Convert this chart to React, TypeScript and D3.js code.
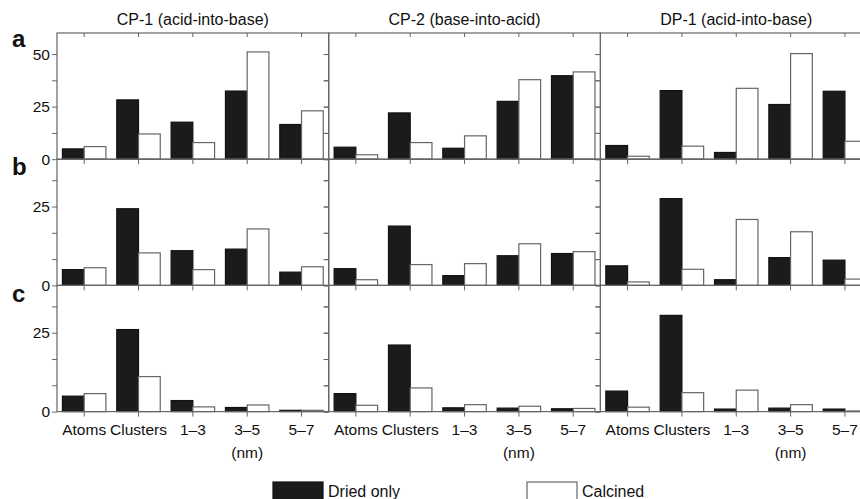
import React, { useEffect, useRef } from "react";
import * as d3 from "d3";

const categories = ["Atoms", "Clusters", "1–3", "3–5", "5–7"];
const columns = ["CP-1 (acid-into-base)", "CP-2 (base-into-acid)", "DP-1 (acid-into-base)"];
const rowLetters = ["a", "b", "c"];
const rowMax = [60, 40, 40];
const rowStep = [12.5, 25 / 3, 25 / 3];
const seriesNames = ["Dried only", "Calcined"];

// one list per column (CP-1, CP-2, DP-1), values per category
const driedA = [
  [4.9, 28.2, 17.6, 32.4, 16.5],
  [5.7, 22, 5.2, 27.5, 39.7],
  [6.5, 32.6, 3.2, 26, 32.3],
];
const calcinedA = [
  [6.0, 12.0, 7.9, 51, 23],
  [2.1, 7.9, 11.1, 37.8, 41.5],
  [1.4, 6.2, 33.7, 50.2, 8.5],
];
const driedB = [
  [5.0, 24.3, 11.0, 11.5, 4.2],
  [5.3, 18.8, 3.1, 9.4, 10.1],
  [6.2, 27.5, 1.8, 8.8, 8.0],
];
const calcinedB = [
  [5.6, 10.3, 5.0, 17.9, 5.9],
  [1.8, 6.6, 6.9, 13.2, 10.7],
  [1.1, 5.1, 20.9, 17.0, 2.0],
];
const driedC = [
  [4.9, 26, 3.5, 1.3, 0.4],
  [5.7, 21.1, 1.2, 1.1, 0.9],
  [6.5, 30.5, 0.8, 1.1, 0.8],
];
const calcinedC = [
  [5.7, 11.1, 1.5, 2.1, 0.4],
  [2.0, 7.5, 2.2, 1.7, 1.0],
  [1.4, 6.0, 6.8, 2.2, 0.2],
];

const W = 860;
const H = 499;
const left = 57;
const colW = 271.7;
const top = 33;
const rowH = 126.2;
const font = "'Liberation Sans', Arial, Helvetica, sans-serif";
const fs = 16;
const tickFs = 15.5;
const gray = "#666";

export default function App() {
  const ref = useRef<SVGSVGElement>(null);

  useEffect(() => {
    const svg = d3.select(ref.current);
    svg.selectAll("*").remove();

    const dried = [driedA, driedB, driedC];
    const calcined = [calcinedA, calcinedB, calcinedC];

    const x = d3
      .scaleBand()
      .domain(categories)
      .range([0, colW])
      .paddingInner(0.2)
      .paddingOuter(0.1);
    const xs = d3.scaleBand().domain(seriesNames).range([0, x.bandwidth()]);

    const isMajor = (d: number) => Math.abs(d / 25 - Math.round(d / 25)) < 1e-6;

    rowLetters.forEach((letter, ri) => {
      const y = d3.scaleLinear().domain([0, rowMax[ri]]).range([rowH, 0]);
      const ticks = d3.range(0, rowMax[ri] + 1e-6, rowStep[ri]);

      columns.forEach((title, ci) => {
        const g = svg
          .append("g")
          .attr("transform", `translate(${left + ci * colW},${top + ri * rowH})`);

        const data = categories.flatMap((cat, k) => [
          { cat, s: seriesNames[0], v: dried[ri][ci][k] },
          { cat, s: seriesNames[1], v: calcined[ri][ci][k] },
        ]);

        g.selectAll("rect.bar")
          .data(data)
          .enter()
          .append("rect")
          .attr("class", "bar")
          .attr("x", (d) => (x(d.cat) as number) + (xs(d.s) as number))
          .attr("y", (d) => y(d.v))
          .attr("width", xs.bandwidth())
          .attr("height", (d) => rowH - y(d.v))
          .attr("fill", (d) => (d.s === seriesNames[0] ? "#1b1b1b" : "#fff"))
          .attr("stroke", (d) => (d.s === seriesNames[0] ? "#111" : gray))
          .attr("stroke-width", 1.2);

        // frame
        g.append("rect")
          .attr("width", colW)
          .attr("height", rowH)
          .attr("fill", "none")
          .attr("stroke", gray)
          .attr("stroke-width", 1.2);

        // y axis
        const ya = g
          .append("g")
          .call(
            d3
              .axisLeft(y)
              .tickValues(ticks)
              .tickSize(5)
              .tickPadding(2)
              .tickFormat((d) => (ci === 0 && isMajor(+d) ? String(d) : ""))
          );
        ya.select(".domain").remove();

        const yr = g
          .append("g")
          .attr("transform", `translate(${colW},0)`)
          .call(d3.axisRight(y).tickValues(ticks).tickSize(-5).tickFormat(() => ""));
        yr.select(".domain").remove();

        // x axis
        const xa = g
          .append("g")
          .attr("transform", `translate(0,${rowH})`)
          .call(
            d3
              .axisBottom(x)
              .tickSize(5)
              .tickPadding(7)
              .tickFormat((d) => (ri === 2 ? d : ""))
          );
        xa.select(".domain").remove();

        if (ri === 0) {
          const xt = g.append("g").call(d3.axisTop(x).tickSize(-4).tickFormat(() => ""));
          xt.select(".domain").remove();

          svg
            .append("text")
            .attr("x", left + ci * colW + colW / 2)
            .attr("y", 25)
            .attr("text-anchor", "middle")
            .attr("font-family", font)
            .attr("font-size", fs)
            .attr("fill", "#111")
            .text(title);
        }

        if (ri === 2) {
          g.append("text")
            .attr("x", (x("3–5") as number) + x.bandwidth() / 2)
            .attr("y", rowH + 46.5)
            .attr("text-anchor", "middle")
            .attr("font-family", font)
            .attr("font-size", tickFs)
            .attr("fill", "#111")
            .text("(nm)");
        }

        g.selectAll(".tick line").attr("stroke", gray);
        g.selectAll(".tick text")
          .attr("font-family", font)
          .attr("font-size", tickFs)
          .attr("fill", "#111");
      });

      svg
        .append("text")
        .attr("x", 12)
        .attr("y", [47, 175, 302][ri])
        .attr("font-family", font)
        .attr("font-size", 24)
        .attr("font-weight", "bold")
        .attr("fill", "#111")
        .text(letter);
    });

    // legend
    const legend = svg.append("g");
    const lx = [273, 527];
    seriesNames.forEach((name, i) => {
      legend
        .append("rect")
        .attr("x", lx[i])
        .attr("y", 482)
        .attr("width", 50)
        .attr("height", 24)
        .attr("fill", i === 0 ? "#1b1b1b" : "#fff")
        .attr("stroke", i === 0 ? "#111" : gray)
        .attr("stroke-width", 1.2);
      legend
        .append("text")
        .attr("x", lx[i] + 55)
        .attr("y", 497)
        .attr("font-family", font)
        .attr("font-size", fs)
        .attr("fill", "#111")
        .text(name);
    });
  }, []);

  return (
    <div style={{ position: "absolute", left: 0, top: 0, background: "#fff" }}>
      <svg ref={ref} width={W} height={H} style={{ display: "block", overflow: "hidden" }} />
    </div>
  );
}
